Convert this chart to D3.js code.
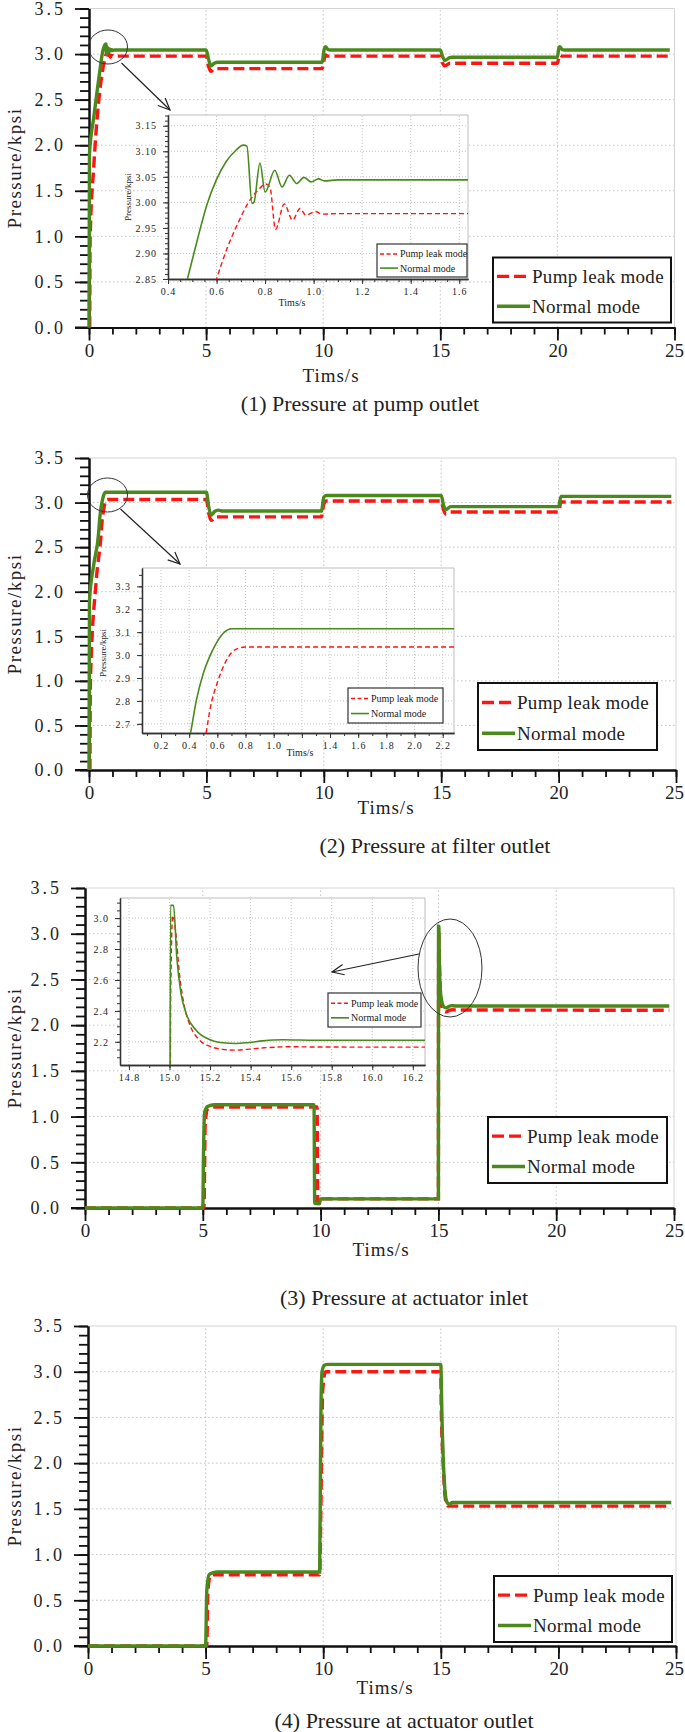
<!DOCTYPE html>
<html>
<head>
<meta charset="utf-8">
<script src="https://cdn.jsdelivr.net/npm/d3@7"></script>
<style>
body{margin:0;background:#fff}
svg{display:block}
text{font-family:"Liberation Serif","DejaVu Serif",serif;fill:#222}
</style>
</head>
<body>
<svg id="chart" width="685" height="1732"></svg>
<script>
// ---- data: [time s, pressure kpsi] ----
var p1Normal = [[0,0],[0.02,1.9],[0.2,2.3],[0.35,2.6],[0.48,2.85],[0.52,2.925],[0.56,2.995],[0.6,3.045],[0.64,3.08],[0.68,3.102],[0.71,3.112],[0.725,3.11],
  [0.746,2.998],[0.754,3.0],[0.779,3.077],[0.80,3.02],[0.84,3.063],[0.87,3.03],[0.90,3.053],[0.93,3.037],[0.96,3.049],[0.99,3.04],[1.02,3.046],[1.045,3.042],[1.1,3.044],
  [5.0,3.044],[5.1,2.95],[5.2,2.87],[5.35,2.9],[5.5,2.91],[9.95,2.91],[10.05,3.06],[10.1,3.08],[10.2,3.05],[10.3,3.044],
  [15.0,3.044],[15.1,2.97],[15.2,2.93],[15.4,2.96],[15.5,2.965],[20.0,2.965],[20.05,3.05],[20.1,3.08],[20.2,3.05],[20.3,3.044],[24.8,3.044]]
var p1Leak = [[0.03,0],[0.05,1.0],[0.2,1.75],[0.4,2.45],[0.5,2.68],[0.6,2.85],[0.646,2.913],[0.688,2.959],[0.729,2.998],[0.771,3.024],[0.803,3.036],[0.82,3.03],
  [0.843,2.947],[0.879,2.997],[0.913,2.965],[0.944,2.988],[0.968,2.975],[1.007,2.982],[1.035,2.977],[1.1,2.978],
  [5.0,2.978],[5.1,2.87],[5.2,2.81],[5.35,2.84],[9.95,2.84],[10.05,2.95],[10.1,2.99],[10.2,2.978],
  [15.0,2.978],[15.1,2.9],[15.2,2.87],[15.4,2.9],[20.0,2.9],[20.05,2.95],[20.1,2.99],[20.2,2.978],[24.8,2.978]]

var p2Normal = [[0,0],[0.02,1.9],[0.2,2.3],[0.41,2.66],[0.45,2.8],[0.5,2.92],[0.55,3.0],[0.6,3.06],[0.65,3.1],[0.7,3.115],
  [5.0,3.115],[5.1,2.95],[5.2,2.86],[5.35,2.9],[5.5,2.915],[5.7,2.905],[9.9,2.905],[10.0,3.06],[10.1,3.08],
  [15.0,3.08],[15.1,2.97],[15.2,2.92],[15.4,2.955],[20.0,2.955],[20.1,3.07],[24.8,3.07]]
var p2Leak = [[0.04,0],[0.06,1.0],[0.3,2.1],[0.52,2.66],[0.55,2.77],[0.6,2.88],[0.65,2.96],[0.7,3.01],[0.75,3.03],[0.8,3.035],
  [5.0,3.035],[5.1,2.88],[5.2,2.8],[5.4,2.84],[9.9,2.84],[10.0,2.98],[10.1,3.018],
  [15.0,3.018],[15.1,2.92],[15.2,2.87],[15.4,2.895],[20.0,2.895],[20.1,3.007],[24.8,3.007]]

var p3Normal = [[0,0],[5.0,0],[5.03,0.6],[5.08,1.05],[5.2,1.11],[5.5,1.13],[9.72,1.13],[9.75,0.05],[9.95,0.05],[10.0,0.1],[15.0,0.1],
  [15.005,3.082],[15.02,3.082],[15.036,2.748],[15.057,2.512],[15.082,2.383],[15.131,2.275],[15.197,2.215],[15.262,2.194],[15.328,2.189],
  [15.393,2.196],[15.46,2.206],[15.557,2.213],[15.72,2.21],[24.8,2.21]]
var p3Leak = [[0,0],[5.05,0],[5.1,0.9],[5.2,1.08],[5.5,1.105],[9.85,1.105],[9.88,0.05],[9.95,0.05],[10.0,0.1],[15.0,0.1],
  [15.006,2.5],[15.016,3.017],[15.03,2.92],[15.049,2.64],[15.074,2.426],[15.098,2.318],[15.148,2.211],[15.197,2.172],[15.262,2.151],
  [15.328,2.146],[15.393,2.153],[15.49,2.163],[15.59,2.168],[15.754,2.166],[24.8,2.163]]

var p4Normal = [[0,0],[5.0,0],[5.05,0.6],[5.15,0.78],[5.3,0.8],[5.5,0.81],[9.85,0.81],[9.9,2.5],[9.95,3.0],[10.05,3.07],[10.2,3.08],
  [15.0,3.08],[15.05,2.5],[15.15,1.8],[15.25,1.58],[15.35,1.55],[15.5,1.57],[24.8,1.57]]
var p4Leak = [[0,0],[5.05,0],[5.1,0.6],[5.2,0.77],[5.4,0.78],[9.85,0.78],[9.9,1.5],[9.98,2.8],[10.1,3.0],
  [15.0,3.0],[15.02,2.6],[15.1,2.0],[15.2,1.6],[15.3,1.53],[24.8,1.53]]

// ---- ticks and labels ----
var xTicks = [0,5,10,15,20,25]
var yTicks = [0,0.5,1.0,1.5,2.0,2.5,3.0,3.5]
var in1XTicks = [0.4,0.6,0.8,1.0,1.2,1.4,1.6]
var in1YTicks = [2.85,2.90,2.95,3.00,3.05,3.10,3.15]
var in2XTicks = [0.2,0.4,0.6,0.8,1.0,1.2,1.4,1.6,1.8,2.0,2.2]
var in2XLabels = [0.2,0.4,0.6,0.8,1.0,1.4,1.6,1.8,2.0,2.2]
var in2YTicks = [2.7,2.8,2.9,3.0,3.1,3.2,3.3]
var in3XTicks = [14.8,15.0,15.2,15.4,15.6,15.8,16.0,16.2]
var in3YTicks = [2.2,2.4,2.6,2.8,3.0]
var seriesNames = ['Pump leak mode','Normal mode']
var captions = ['(1) Pressure at pump outlet','(2) Pressure at filter outlet','(3) Pressure at actuator inlet','(4) Pressure at actuator outlet']
var xTitle = 'Tims/s'
var yTitle = 'Pressure/kpsi'

var GREEN = '#4a8a1c', RED = '#ff1414', GRID = '#c4c4c4'
var svg = d3.select('#chart')

// keep a label inside the page width
function keepInside(sel){
    sel.each(function(){
        var b = this.getBBox(), m = this.getScreenCTM()
        var right = m.e + (b.x + b.width)
        if(right > 684) d3.select(this).attr('dx', (684 - right) + 'px')
    })
}

function drawMain(L, normal, leak, caption){
    var x = d3.scaleLinear().domain([0,25]).range([L.x0,L.x1])
    var y = d3.scaleLinear().domain([0,3.5]).range([L.y0,L.y1])
    var g = svg.append('g')

    // grid
    g.selectAll('.vg').data(xTicks.slice(1,-1)).enter().append('line')
     .attr('x1',d=>x(d)).attr('x2',d=>x(d)).attr('y1',y(0)).attr('y2',y(3.5))
     .attr('stroke',GRID).attr('stroke-dasharray','1.5,2.5')
    g.selectAll('.hg').data(yTicks.slice(1,-1)).enter().append('line')
     .attr('x1',x(0)).attr('x2',x(25)).attr('y1',d=>y(d)).attr('y2',d=>y(d))
     .attr('stroke',GRID).attr('stroke-dasharray','1.5,2.5')
    g.append('path').attr('d','M'+x(0)+','+y(3.5)+'H'+x(25)+'V'+y(0))
     .attr('fill','none').attr('stroke','#d4d4d4')

    // axes
    var ax = function(sel){ sel.selectAll('line').attr('stroke','#111').attr('stroke-width',1.8)
        sel.select('.domain').attr('stroke','#111').attr('stroke-width',2) }
    g.append('g').attr('transform','translate('+L.x0+',0)')
     .call(d3.axisLeft(y).tickValues(d3.range(0,3.51,0.1)).tickSize(9).tickSizeOuter(0).tickFormat('')).call(ax)
    g.append('g').attr('transform','translate('+L.x0+',0)')
     .call(d3.axisLeft(y).tickValues(yTicks).tickSize(14).tickSizeOuter(0).tickPadding(9).tickFormat(d3.format('.1f'))).call(ax)
     .selectAll('text').attr('font-size',18).attr('letter-spacing',3).style('font-family','"Liberation Serif",serif').attr('fill','#333')
    g.append('g').attr('transform','translate(0,'+L.y0+')')
     .call(d3.axisBottom(x).tickValues(d3.range(0,25.1,1)).tickSize(7).tickSizeOuter(0).tickFormat('')).call(ax)
    g.append('g').attr('transform','translate(0,'+L.y0+')')
     .call(d3.axisBottom(x).tickValues(xTicks).tickSize(13).tickSizeOuter(0).tickPadding(3).tickFormat(d3.format('d'))).call(ax)
     .selectAll('text').attr('font-size',19).style('font-family','"Liberation Serif",serif').attr('fill','#333')
     .call(keepInside)
    g.append('line').attr('x1',L.x0-14).attr('x2',L.x0).attr('y1',y(0)).attr('y2',y(0)).attr('stroke','#111').attr('stroke-width',2)

    // titles
    g.append('text').attr('x',L.tx).attr('y',L.ty).attr('text-anchor','middle').attr('dominant-baseline','central')
     .attr('font-size',19).attr('letter-spacing',1).text(xTitle)
    g.append('text').attr('transform','translate(14,'+((L.y0+L.y1)/2)+') rotate(-90)').attr('text-anchor','middle')
     .attr('dominant-baseline','central').attr('font-size',19).attr('letter-spacing',1.5).text(yTitle)
    g.append('text').attr('x',L.cx).attr('y',L.cy).attr('text-anchor','middle').attr('dominant-baseline','central')
     .attr('font-size',22).attr('fill','#111').text(caption)

    // series
    var line = d3.line().x(d=>x(d[0])).y(d=>y(d[1])).curve(d3.curveMonotoneX)
    g.append('path').datum(leak).attr('d',line).attr('fill','none').attr('stroke',RED)
     .attr('stroke-width',3.4).attr('stroke-dasharray','11,5')
    g.append('path').datum(normal).attr('d',line).attr('fill','none').attr('stroke',GREEN)
     .attr('stroke-width',3.4)

    // legend
    var lg = L.legend
    g.append('rect').attr('x',lg.x).attr('y',lg.y).attr('width',lg.w).attr('height',lg.h)
     .attr('fill','#fff').attr('stroke','#111').attr('stroke-width',2)
    var rows = [lg.y+lg.h*0.29, lg.y+lg.h*0.75]
    g.append('line').attr('x1',lg.x+4).attr('x2',lg.x+37).attr('y1',rows[0]).attr('y2',rows[0])
     .attr('stroke',RED).attr('stroke-width',3.4).attr('stroke-dasharray','12,5')
    g.append('line').attr('x1',lg.x+4).attr('x2',lg.x+37).attr('y1',rows[1]).attr('y2',rows[1])
     .attr('stroke',GREEN).attr('stroke-width',3.4)
    g.selectAll('.lt').data(seriesNames).enter().append('text')
     .attr('x',lg.x+39).attr('y',(d,i)=>rows[i]).attr('dominant-baseline','central')
     .attr('font-size',19).attr('letter-spacing',0.3).text(d=>d)
}

function drawInset(I, normal, leak, id){
    var x = d3.scaleLinear().domain(I.xd).range([I.l,I.r])
    var y = d3.scaleLinear().domain(I.yd).range([I.b,I.t])
    var g = svg.append('g')
    g.append('rect').attr('x',I.l).attr('y',I.t).attr('width',I.r-I.l).attr('height',I.b-I.t).attr('fill','#fff')
    g.selectAll('.vg').data(I.xt).enter().append('line')
     .attr('x1',d=>x(d)).attr('x2',d=>x(d)).attr('y1',I.b).attr('y2',I.t)
     .attr('stroke',GRID).attr('stroke-dasharray','1,2')
    g.selectAll('.hg').data(I.yt).enter().append('line')
     .attr('x1',I.l).attr('x2',I.r).attr('y1',d=>y(d)).attr('y2',d=>y(d))
     .attr('stroke',GRID).attr('stroke-dasharray','1,2')
    g.append('path').attr('d','M'+I.l+','+I.t+'H'+I.r+'V'+I.b).attr('fill','none').attr('stroke','#bdbdbd')

    var ax = function(sel){ sel.selectAll('line').attr('stroke','#333')
        sel.select('.domain').attr('stroke','#333').attr('stroke-width',1.3) }
    g.append('g').attr('transform','translate('+I.l+',0)')
     .call(d3.axisLeft(y).tickValues(I.ym).tickSize(3).tickSizeOuter(0).tickFormat('')).call(ax)
    g.append('g').attr('transform','translate('+I.l+',0)')
     .call(d3.axisLeft(y).tickValues(I.yt).tickSize(5).tickSizeOuter(0).tickPadding(6).tickFormat(d3.format(I.yf))).call(ax)
     .selectAll('text').attr('font-size',10).attr('letter-spacing',1).style('font-family','"Liberation Serif",serif').attr('fill','#444')
    g.append('g').attr('transform','translate(0,'+I.b+')')
     .call(d3.axisBottom(x).tickValues(I.xm).tickSize(3).tickSizeOuter(0).tickFormat('')).call(ax)
    g.append('g').attr('transform','translate(0,'+I.b+')')
     .call(d3.axisBottom(x).tickValues(I.xt).tickSize(5).tickSizeOuter(0).tickPadding(4)
       .tickFormat(d=>I.xl.some(v=>Math.abs(v-d)<1e-9) ? d3.format('.1f')(d) : '')).call(ax)
     .selectAll('text').attr('font-size',10).attr('letter-spacing',1).style('font-family','"Liberation Serif",serif').attr('fill','#444')

    if(I.title){
        g.append('text').attr('x',I.title[0]).attr('y',I.title[1]).attr('text-anchor','middle').attr('dominant-baseline','central')
         .attr('font-size',10).attr('fill','#444').text(xTitle)
        g.append('text').attr('transform','translate('+I.ytitle[0]+','+I.ytitle[1]+') rotate(-90)').attr('text-anchor','middle')
         .attr('dominant-baseline','central').attr('font-size',9).attr('fill','#444').text(yTitle)
    }

    svg.append('clipPath').attr('id',id).append('rect')
     .attr('x',I.l).attr('y',I.t).attr('width',I.r-I.l).attr('height',I.b-I.t)
    var line = d3.line().x(d=>x(d[0])).y(d=>y(d[1])).curve(d3.curveMonotoneX)
    var lines = g.append('g').attr('clip-path','url(#'+id+')')
    lines.append('path').datum(leak).attr('d',line).attr('fill','none').attr('stroke',RED)
     .attr('stroke-width',1.4).attr('stroke-dasharray','5,3')
    lines.append('path').datum(normal).attr('d',line).attr('fill','none').attr('stroke',GREEN)
     .attr('stroke-width',1.6)

    var lg = I.legend
    g.append('rect').attr('x',lg.x).attr('y',lg.y).attr('width',lg.w).attr('height',lg.h)
     .attr('fill','#fff').attr('stroke','#333').attr('stroke-width',1.2)
    var rows = [lg.y+lg.h*0.3, lg.y+lg.h*0.73]
    g.append('line').attr('x1',lg.x+3).attr('x2',lg.x+21).attr('y1',rows[0]).attr('y2',rows[0])
     .attr('stroke',RED).attr('stroke-width',1.5).attr('stroke-dasharray','4,2.5')
    g.append('line').attr('x1',lg.x+3).attr('x2',lg.x+21).attr('y1',rows[1]).attr('y2',rows[1])
     .attr('stroke',GREEN).attr('stroke-width',1.6)
    g.selectAll('.lt').data(seriesNames).enter().append('text')
     .attr('x',lg.x+23).attr('y',(d,i)=>rows[i]).attr('dominant-baseline','central')
     .attr('font-size',10).attr('fill','#333').text(d=>d)
}

function callout(e, a){
    svg.append('ellipse').attr('cx',e[0]).attr('cy',e[1]).attr('rx',e[2]).attr('ry',e[3])
     .attr('fill','none').attr('stroke','#333').attr('stroke-width',1)
    var ang = Math.atan2(a[3]-a[1], a[2]-a[0]), len = 13
    var p = [[a[0],a[1]],[a[2],a[3]]]
    svg.append('path').attr('d',d3.line()(p)).attr('stroke','#222').attr('stroke-width',1.2)
    var h = [[a[2]-len*Math.cos(ang-0.42), a[3]-len*Math.sin(ang-0.42)],[a[2],a[3]],
             [a[2]-len*Math.cos(ang+0.42), a[3]-len*Math.sin(ang+0.42)]]
    svg.append('path').attr('d',d3.line()(h)).attr('fill','none').attr('stroke','#222').attr('stroke-width',1.2)
}

// ---- layout (pixels) ----
var panels = [
  {x0:89, x1:674.5, y0:327.5, y1:8.5, tx:331, ty:375, cx:360, cy:403, legend:{x:493,y:257.5,w:178,h:65}},
  {x0:89, x1:676, y0:770, y1:458, tx:386, ty:807, cx:435, cy:845, legend:{x:478,y:683,w:179,h:67}},
  {x0:85, x1:674, y0:1208, y1:888, tx:381, ty:1249, cx:404, cy:1297, legend:{x:488,y:1117,w:179,h:66}},
  {x0:88, x1:676, y0:1646, y1:1326, tx:385, ty:1687, cx:404, cy:1720, legend:{x:494,y:1576,w:178,h:66}}
]
var insets = [
  {l:168, r:468, t:115, b:279, xd:[0.4,1.636], yd:[2.85,3.171], xt:in1XTicks, xl:in1XTicks, xm:d3.range(0.4,1.64,0.05),
   yt:in1YTicks, ym:d3.range(2.85,3.171,0.01), yf:'.2f', legend:{x:377,y:244,w:90,h:33}, title:[292,302], ytitle:[128,197]},
  {l:142, r:454, t:568, b:733, xd:[0.065,2.28], yd:[2.66,3.38], xt:in2XTicks, xl:in2XLabels, xm:d3.range(0.1,2.28,0.1),
   yt:in2YTicks, ym:d3.range(2.7,3.38,0.05), yf:'.1f', legend:{x:348,y:688,w:95,h:35}, title:[300,752], ytitle:[103,653]},
  {l:120, r:425, t:898, b:1065, xd:[14.756,16.26], yd:[2.05,3.13], xt:in3XTicks, xl:in3XTicks, xm:d3.range(14.8,16.26,0.1),
   yt:in3YTicks, ym:d3.range(2.1,3.13,0.05), yf:'.1f', legend:{x:328,y:993,w:93,h:34}}
]

drawMain(panels[0], p1Normal, p1Leak, captions[0])
drawInset(insets[0], p1Normal, p1Leak, 'clip1')
callout([108,47,19.5,17], [121.5,63,170,110])

drawMain(panels[1], p2Normal, p2Leak, captions[1])
drawInset(insets[1], p2Normal, p2Leak, 'clip2')
callout([107.5,495,20,17], [120.5,509,180,564])

drawMain(panels[2], p3Normal, p3Leak, captions[2])
drawInset(insets[2], p3Normal, p3Leak, 'clip3')
callout([450,968,32,49], [419,954,332,972])

drawMain(panels[3], p4Normal, p4Leak, captions[3])
</script>
</body>
</html>
